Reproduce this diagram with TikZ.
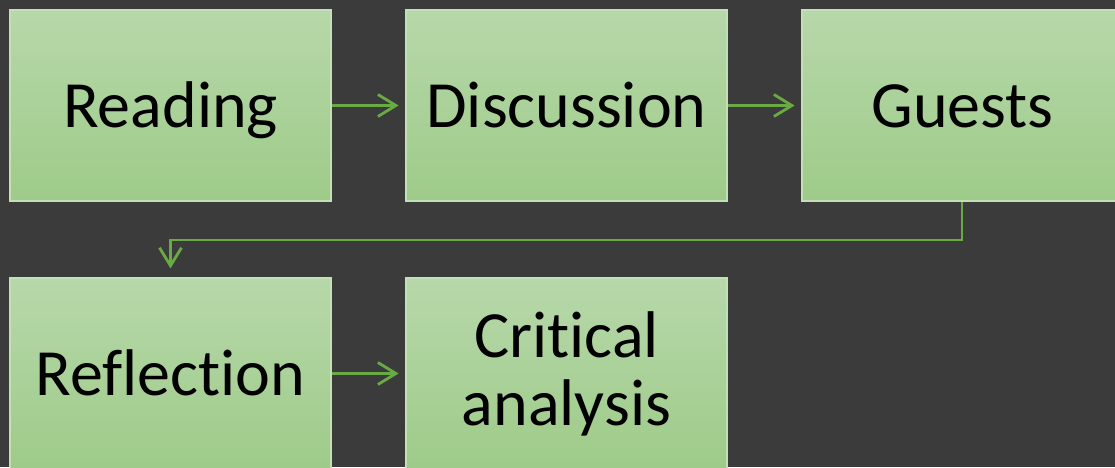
\documentclass[tikz,border=0pt]{standalone}
\usepackage{fontspec}
\setmainfont{Carlito}[Ligatures=NoCommon]
\usetikzlibrary{arrows.meta}
\usetikzlibrary{calc}

\definecolor{bgcol}{HTML}{3B3B3B}
\definecolor{boxtop}{HTML}{B7D8AA}
\definecolor{boxbot}{HTML}{9ECB89}
\definecolor{boxedge}{HTML}{C3DFB6}
\definecolor{linkcol}{HTML}{6AAA45}

\tikzset{
    stagebox/.style={rectangle, draw=boxedge, line width=0.6pt, top color=boxtop, bottom color=boxbot,
        minimum width=160.5pt, minimum height=95.5pt, inner sep=0pt, align=center,
        font=\fontsize{33}{34}\selectfont, text=black},
    oneline/.style={text height=28pt, text depth=6.5pt},
    link/.style={draw=linkcol, line width=1.4pt, -{Straight Barb[length=9pt,width=11pt]}}
}

\begin{document}
\begin{tikzpicture}[x=0.5pt,y=-0.5pt]
        \useasboundingbox (0,0) rectangle (1115,467);
        \clip (0,0) rectangle (1115,467);
        \fill[bgcol] (0,0) rectangle (1115,467);
        % first row
        \node[stagebox,oneline] (reading) at (170.5,105.5) {Reading};
        \node[stagebox,oneline] (discussion) at (566.5,105.5) {Discussion};
        \node[stagebox,oneline] (guests) at (962.5,105.5) {Guests};
        % second row
        \node[stagebox,oneline] (reflection) at (170.5,373.5) {Reflection};
        \node[stagebox] (critical) at (566.5,373.5) {Critical\\analysis};
        \coordinate (turn) at (962,240);
        \draw[link] (reading.east) -- ++(67,0);
        \draw[link] (discussion.east) -- ++(67,0);
        \draw[link] (guests.south -| turn) -- (turn) -| ($(reflection.north)+(0,-9)$);
        \draw[link] (reflection.east) -- ++(67,0);
    \end{tikzpicture}
\end{document}
